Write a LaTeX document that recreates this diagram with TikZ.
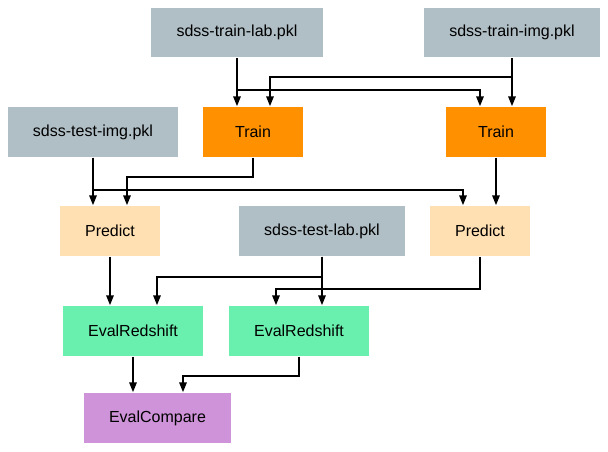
\documentclass[tikz,border=0pt]{standalone}
\usepackage{fontspec}
\setmainfont{Liberation Sans}
\usetikzlibrary{arrows.meta,positioning}

\definecolor{filegray}{HTML}{B0BEC5}
\definecolor{trainorange}{HTML}{FF9100}
\definecolor{predictpeach}{HTML}{FFE0B2}
\definecolor{evalgreen}{HTML}{69F0AE}
\definecolor{comparepurple}{HTML}{CE93D8}

\begin{document}
\begin{tikzpicture}[
    x = 0.75pt, y = -0.75pt, % one unit = one pixel of the reference
    > = {Triangle[length=7.5pt,width=5.5pt]}, % arrow head style
    line width = 1.5pt, % line style
    font = \fontsize{12}{14}\selectfont,
    every node/.style = {
        inner xsep = 19pt,
        minimum width = 75pt,
        minimum height = 37pt
    },
    datafile/.style = {fill = filegray},
    trainbox/.style = {fill = trainorange},
    predictbox/.style = {fill = predictpeach},
    evalbox/.style = {fill = evalgreen},
    comparebox/.style = {fill = comparepurple},
    flow/.style = {->, draw = black}
    ]

    \useasboundingbox (0,0) rectangle (608,452);

    % inputs
    \node[datafile] (trainlab) at (237,32.5) {sdss-train-lab.pkl};
    \node[datafile] (trainimg) at (512,32.5) {sdss-train-img.pkl};
    \node[datafile] (testimg) at (93,132) {sdss-test-img.pkl};
    \node[datafile] (testlab) at (322,231) {sdss-test-lab.pkl};

    % tasks
    \node[trainbox] (trainA) at (253,132) {Train};
    \node[trainbox] (trainB) at (496,132) {Train};
    \node[predictbox] (predictA) at (110,231) {Predict};
    \node[predictbox] (predictB) at (480,231) {Predict};
    \node[evalbox] (evalA) at (133,331) {EvalRedshift};
    \node[evalbox] (evalB) at (299,331) {EvalRedshift};
    \node[comparebox] (compare) at (157.5,418) {EvalCompare};

    % training
    \draw[flow] (trainlab.south) -- (trainlab.south |- trainA.north);
    \draw[flow] (trainlab.south) -- ++(0,32) -| ([xshift=-12pt]trainB.north);
    \draw[flow] (trainimg.south) -- (trainimg.south |- trainB.north);
    \draw[flow] (trainimg.south) -- ++(0,19) -| ([xshift=12.75pt]trainA.north);

    % prediction
    \draw[flow] (testimg.south) -- (testimg.south |- predictA.north);
    \draw[flow] (testimg.south) -- ++(0,32) -| ([xshift=-12.75pt]predictB.north);
    \draw[flow] (trainA.south) -- ++(0,19) -| ([xshift=12.75pt]predictA.north);
    \draw[flow] (trainB.south) -- (trainB.south |- predictB.north);

    % evaluation
    \draw[flow] (predictA.south) -- (predictA.south |- evalA.north);
    \draw[flow] (testlab.south) -- ++(0,20) -| ([xshift=18pt]evalA.north);
    \draw[flow] (testlab.south) -- (testlab.south |- evalB.north);
    \draw[flow] (predictB.south) -- ++(0,32) -| ([xshift=-17.25pt]evalB.north);
    \draw[flow] (evalA.south) -- (evalA.south |- compare.north);
    \draw[flow] (evalB.south) -- ++(0,19) -| ([xshift=19.125pt]compare.north);
\end{tikzpicture}
\end{document}
